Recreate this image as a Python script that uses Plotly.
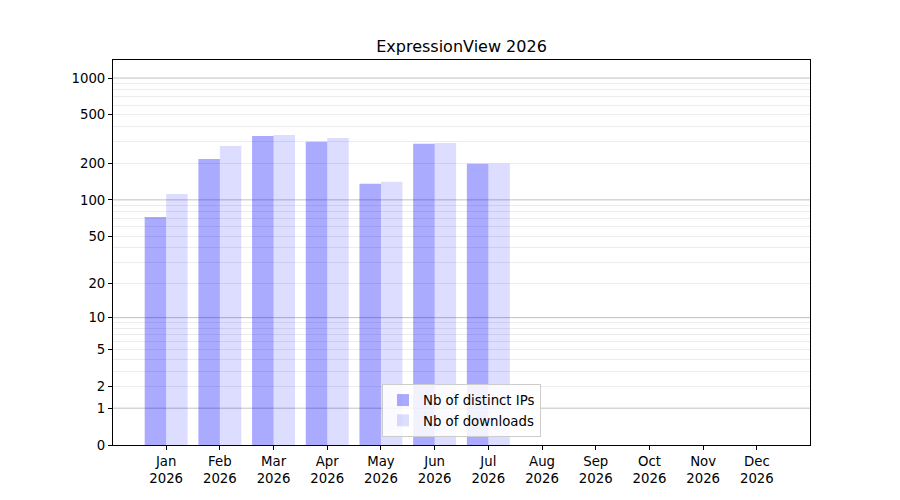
import numpy as np
import plotly.graph_objects as go

# monthly stats
months = ['Jan', 'Feb', 'Mar', 'Apr', 'May', 'Jun', 'Jul', 'Aug', 'Sep', 'Oct', 'Nov', 'Dec']
year = 2026
distinct_ips = [72, 217, 335, 300, 136, 289, 198, 0, 0, 0, 0, 0]
downloads = [112, 278, 342, 323, 141, 294, 199, 0, 0, 0, 0, 0]

y_ticks = [0, 1, 2, 5, 10, 20, 50, 100, 200, 500, 1000]
# light grid lines (everything that is not a decade)
y_light = [2, 3, 4, 5, 6, 7, 8, 9, 20, 30, 40, 50, 60, 70, 80, 90,
           200, 300, 400, 500, 600, 700, 800, 900]
y_decades = [1, 10, 100, 1000]


# the y axis is log10(1 + n) so that zero can sit at the bottom
def tf(v):
    return np.log10(1 + np.asarray(v, dtype=float))


x_labels = [f'{m}<br>{year}' for m in months]

fig = go.Figure()
fig.add_trace(go.Bar(x=x_labels, y=tf(distinct_ips), name='Nb of distinct IPs',
                     marker=dict(color='rgba(0,0,255,0.333)', line_width=0)))
fig.add_trace(go.Bar(x=x_labels, y=tf(downloads), name='Nb of downloads',
                     marker=dict(color='rgba(0,0,255,0.133)', line_width=0)))

# darker grid lines at every decade
for d in y_decades:
    fig.add_hline(y=float(tf(d)), line_color='#c0c0c0', line_width=1, layer='below')

fig.update_xaxes(range=[-0.99, 11.99], showline=True, linecolor='black', linewidth=1,
                 mirror=True, ticks='outside', ticklen=4, tickcolor='black',
                 showgrid=False, tickfont=dict(size=13.3))
fig.update_yaxes(range=[0, 3.148], showline=True, linecolor='black', linewidth=1,
                 mirror=True, ticks='outside', ticklen=4, tickcolor='black',
                 tickmode='array', tickvals=tf(y_ticks), ticktext=[str(t) for t in y_ticks],
                 showgrid=False, zeroline=False,
                 minor=dict(tickmode='array', tickvals=tf(y_light), showgrid=True,
                            gridcolor='#ececec', gridwidth=1, ticklen=0),
                 tickfont=dict(size=13.3))

# page body adds 8px, so margins are shifted to compensate
fig.update_layout(width=900, height=500, autosize=False,
                  plot_bgcolor='white', paper_bgcolor='white',
                  font=dict(family='DejaVu Sans', color='black', size=13.3),
                  margin=dict(l=105, r=98, t=52, b=63),
                  barmode='group', bargap=0.2, bargroupgap=0,
                  title=dict(text='ExpressionView 2026', x=0.5, xref='paper',
                             y=1 - 38 / 500, yref='container', yanchor='middle',
                             font=dict(size=16)),
                  legend=dict(x=0.5, xanchor='center', y=0.021, yanchor='bottom',
                              bgcolor='rgba(255,255,255,0.85)', bordercolor='#cccccc',
                              borderwidth=1, font=dict(size=13.3)),
                  showlegend=True)

fig.write_html('out.html')
